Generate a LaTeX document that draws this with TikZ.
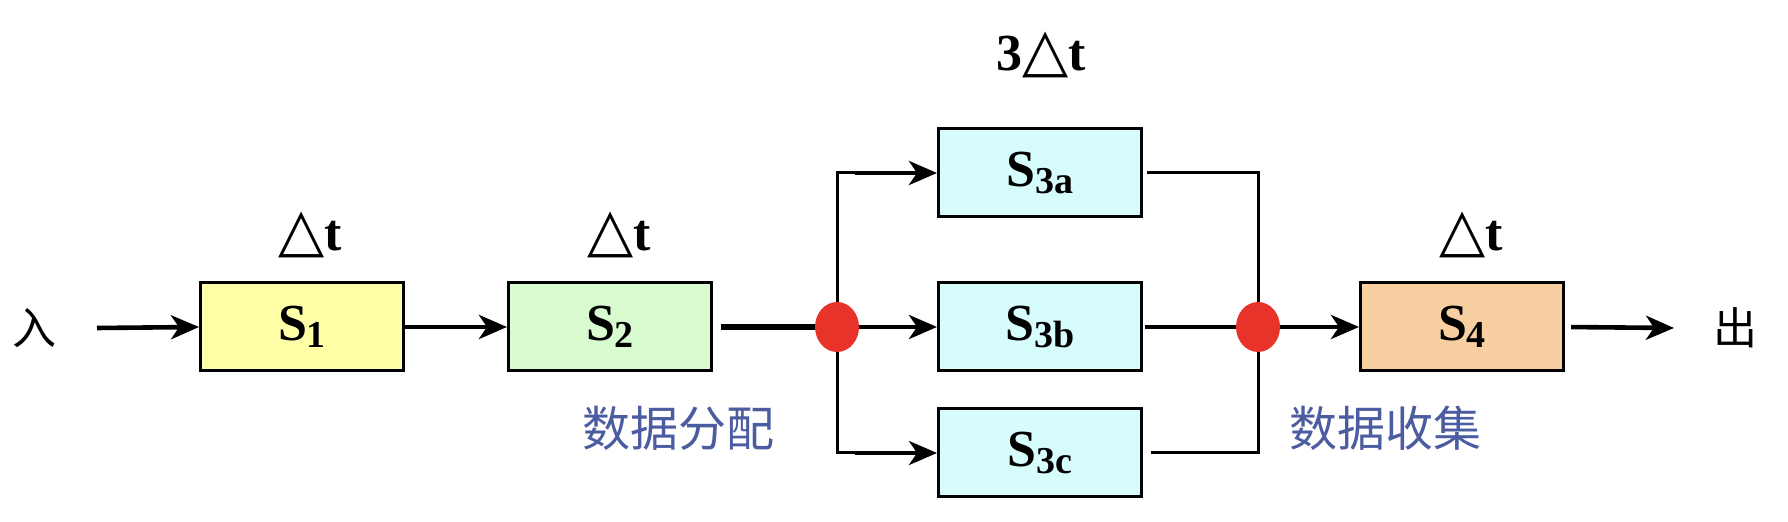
\documentclass[tikz,border=0pt]{standalone}
\usepackage{fontspec}
\setmainfont{Liberation Serif}
\newfontfamily\cjk{Noto Sans CJK SC}
\newfontfamily\djv{DejaVu Sans}
\usetikzlibrary{arrows.meta,shapes.geometric}
\definecolor{cS1}{HTML}{FFFFA8}
\definecolor{cS2}{HTML}{D8FCD0}
\definecolor{cS3}{HTML}{D6FCFC}
\definecolor{cS4}{HTML}{F8CFA0}
\definecolor{cDot}{HTML}{E8332A}
\definecolor{cLbl}{HTML}{4B5CA0}
\newcommand{\stg}[1]{\fontsize{26}{26}\selectfont\bfseries S\raisebox{-0.3ex}{\fontsize{19}{19}\selectfont #1}}
\newcommand{\dtt}{{\djv\fontsize{30}{30}\selectfont △}{\fontsize{26}{26}\selectfont\bfseries t}}
\tikzset{
  stagebox/.style={draw=black, line width=1.5pt, minimum width=101.5pt, minimum height=44pt, inner sep=0pt},
  arr/.style={line width=2.3pt, -{Stealth[length=14pt,width=12pt,inset=4pt]}},
  thinarr/.style={line width=1.8pt, -{Stealth[length=14pt,width=12pt,inset=4pt]}},
  thinline/.style={line width=1.5pt},
  dotnode/.style={ellipse, fill=cDot, minimum width=22pt, minimum height=25pt, inner sep=0pt},
  cjklbl/.style={font=\cjk\fontsize{24}{24}\selectfont, text=cLbl, inner sep=0pt},
  iolbl/.style={font=\cjk\fontsize{22}{22}\selectfont, inner sep=0pt},
  tlbl/.style={inner sep=0pt}
}
\begin{document}
\begin{tikzpicture}[x=0.5pt,y=-0.5pt]
\useasboundingbox (0,0) rectangle (1788,522);
% boxes
\node[stagebox, fill=cS1] (s1) at (302,327) {\stg{1}};
\node[stagebox, fill=cS2] (s2) at (610,327) {\stg{2}};
\node[stagebox, fill=cS3] (s3a) at (1040,173) {\stg{3a}};
\node[stagebox, fill=cS3] (s3b) at (1040,327) {\stg{3b}};
\node[stagebox, fill=cS3] (s3c) at (1040,453) {\stg{3c}};
\node[stagebox, fill=cS4] (s4) at (1462,327) {\stg{4}};
% labels
\node[tlbl] (t1) at (310,235) {\dtt};
\node[tlbl] (t2) at (619,235) {\dtt};
\node[tlbl] (t4) at (1471,235) {\dtt};
\node[tlbl] (t3) at (1041,55) {{\fontsize{26}{26}\selectfont\bfseries 3}\dtt};
\node[iolbl] (inl) at (34,328) {入};
\node[iolbl] (outl) at (1735,328) {出};
\node[cjklbl] (dist) at (678,428) {数据分配};
\node[cjklbl] (coll) at (1385,428) {数据收集};
% coordinates
\coordinate (inpt) at (97,328);
\coordinate (outpt) at (1674,328);
\coordinate (c1) at (837,327);
\coordinate (c2) at (1258,327);
% connectors
\draw[arr] (inpt) -- (s1.west);
\draw[arr] (s1.east) -- (s2.west);
\draw[line width=2.8pt, shorten <=4pt] (s2.east) -- (c1);
\draw[arr] (c1) -- (s3b.west);
\draw[thinline] (c1) |- ([xshift=-40pt]s3a.west);
\draw[arr] ([xshift=-41pt]s3a.west) -- (s3a.west);
\draw[thinline] (c1) |- ([xshift=-40pt]s3c.west);
\draw[thinarr] ([xshift=-41pt]s3c.west) -- (s3c.west);
\draw[thinline, shorten <=2pt] (s3a.east) -| (c2);
\draw[thinline, shorten <=4pt] (s3c.east) -| (c2);
\draw[line width=2.3pt, shorten <=1pt] (s3b.east) -- (c2);
\draw[arr] (c2) -- (s4.west);
\draw[arr, shorten <=3pt] (s4.east) -- (outpt);
% dots
\node[dotnode] (d1) at (c1) {};
\node[dotnode] (d2) at (c2) {};
\end{tikzpicture}
\end{document}
